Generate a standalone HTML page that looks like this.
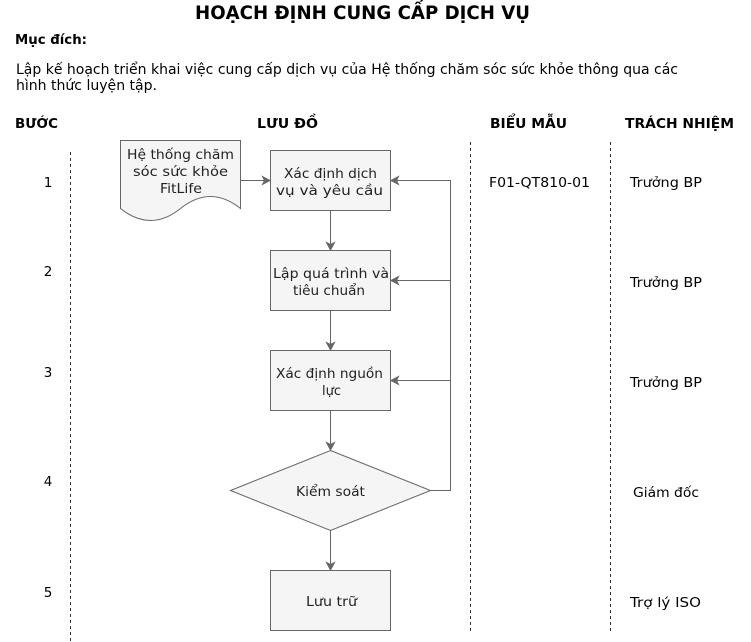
<!DOCTYPE html>
<html>
<head>
<meta charset="utf-8">
<style>
html,body{margin:0;padding:0;background:#fff;}
svg{display:block;}
text{font-family:"DejaVu Sans","Liberation Sans",sans-serif;}
</style>
</head>
<body>
<svg width="751" height="642" viewBox="0 0 751 642" xmlns="http://www.w3.org/2000/svg">
  <!-- Title & intro -->
  <text x="195" y="19" font-size="18.5" font-weight="bold" fill="#000" textLength="335" lengthAdjust="spacingAndGlyphs">HOẠCH ĐỊNH CUNG CẤP DỊCH VỤ</text>
  <text x="15" y="44" font-size="13.5" font-weight="bold" fill="#000" textLength="72" lengthAdjust="spacingAndGlyphs">Mục đích:</text>
  <text x="16" y="74" font-size="14" fill="#000" textLength="662" lengthAdjust="spacingAndGlyphs">Lập kế hoạch triển khai việc cung cấp dịch vụ của Hệ thống chăm sóc sức khỏe thông qua các</text>
  <text x="16" y="90" font-size="14" fill="#000" textLength="141" lengthAdjust="spacingAndGlyphs">hình thức luyện tập.</text>

  <!-- Column headers -->
  <text x="15" y="128" font-size="13.5" font-weight="bold" fill="#000" textLength="43" lengthAdjust="spacingAndGlyphs">BƯỚC</text>
  <text x="257" y="128" font-size="13.5" font-weight="bold" fill="#000" textLength="61" lengthAdjust="spacingAndGlyphs">LƯU ĐỒ</text>
  <text x="490" y="128" font-size="13.5" font-weight="bold" fill="#000" textLength="77" lengthAdjust="spacingAndGlyphs">BIỂU MẪU</text>
  <text x="625" y="128" font-size="13.5" font-weight="bold" fill="#000" textLength="109" lengthAdjust="spacingAndGlyphs">TRÁCH NHIỆM</text>

  <!-- Dashed separators -->
  <g stroke="#333" stroke-width="1" stroke-dasharray="3 3" fill="none">
    <line x1="70.5" y1="152" x2="70.5" y2="642"/>
    <line x1="470.5" y1="142" x2="470.5" y2="631"/>
    <line x1="610.5" y1="142" x2="610.5" y2="631"/>
  </g>

  <!-- Step numbers -->
  <g font-size="13.5" fill="#000" text-anchor="middle">
    <text x="48" y="187">1</text>
    <text x="48" y="276">2</text>
    <text x="48" y="377">3</text>
    <text x="48" y="486">4</text>
    <text x="48" y="597">5</text>
  </g>

  <!-- Forms / responsibilities -->
  <g font-size="13.5" fill="#000">
    <text x="489" y="187" textLength="101" lengthAdjust="spacingAndGlyphs">F01-QT810-01</text>
    <text x="630" y="187" textLength="72" lengthAdjust="spacingAndGlyphs">Trưởng BP</text>
    <text x="630" y="287" textLength="72" lengthAdjust="spacingAndGlyphs">Trưởng BP</text>
    <text x="630" y="387" textLength="72" lengthAdjust="spacingAndGlyphs">Trưởng BP</text>
    <text x="633" y="497" textLength="66" lengthAdjust="spacingAndGlyphs">Giám đốc</text>
    <text x="630" y="607" textLength="71" lengthAdjust="spacingAndGlyphs">Trợ lý ISO</text>
  </g>

  <!-- Shapes -->
  <g fill="#f5f5f5" stroke="#666" stroke-width="1">
    <path d="M120.5,140.5 L240.5,140.5 L240.5,208.5 Q210.5,184.5 180.5,208.5 Q150.5,232.5 120.5,208.5 Z"/>
    <rect x="270.5" y="150.5" width="120" height="60"/>
    <rect x="270.5" y="250.5" width="120" height="60"/>
    <rect x="270.5" y="350.5" width="120" height="60"/>
    <path d="M330.5,450.5 L430.5,490.5 L330.5,530.5 L230.5,490.5 Z"/>
    <rect x="270.5" y="570.5" width="120" height="60"/>
  </g>

  <!-- Connectors -->
  <g stroke="#666" stroke-width="1" fill="none">
    <line x1="240.5" y1="180.5" x2="264" y2="180.5"/>
    <line x1="330.5" y1="210.5" x2="330.5" y2="244"/>
    <line x1="330.5" y1="310.5" x2="330.5" y2="344"/>
    <line x1="330.5" y1="410.5" x2="330.5" y2="444"/>
    <line x1="330.5" y1="530.5" x2="330.5" y2="564"/>
    <polyline points="430.5,490.5 450.5,490.5 450.5,180.5 396,180.5"/>
    <line x1="450.5" y1="280.5" x2="396" y2="280.5"/>
    <line x1="450.5" y1="380.5" x2="396" y2="380.5"/>
  </g>
  <g fill="#666" stroke="#666" stroke-width="1">
    <polygon points="270,180.5 262.5,176.5 264.5,180.5 262.5,184.5"/>
    <polygon points="330.5,250 326.5,242.5 330.5,244.5 334.5,242.5"/>
    <polygon points="330.5,350 326.5,342.5 330.5,344.5 334.5,342.5"/>
    <polygon points="330.5,450 326.5,442.5 330.5,444.5 334.5,442.5"/>
    <polygon points="330.5,570 326.5,562.5 330.5,564.5 334.5,562.5"/>
    <polygon points="391,180.5 398.5,176.5 396.5,180.5 398.5,184.5"/>
    <polygon points="391,280.5 398.5,276.5 396.5,280.5 398.5,284.5"/>
    <polygon points="391,380.5 398.5,376.5 396.5,380.5 398.5,384.5"/>
  </g>

  <!-- Shape labels -->
  <g font-size="13.5" fill="#222">
    <text x="127" y="159" textLength="107" lengthAdjust="spacingAndGlyphs">Hệ thống chăm</text>
    <text x="133" y="176" textLength="95" lengthAdjust="spacingAndGlyphs">sóc sức khỏe</text>
    <text x="160" y="193" textLength="42" lengthAdjust="spacingAndGlyphs">FitLife</text>

    <text x="284" y="178" textLength="93" lengthAdjust="spacingAndGlyphs">Xác định dịch</text>
    <text x="276" y="195" textLength="107" lengthAdjust="spacingAndGlyphs">vụ và yêu cầu</text>

    <text x="273" y="278" textLength="116" lengthAdjust="spacingAndGlyphs">Lập quá trình và</text>
    <text x="293" y="295" textLength="72" lengthAdjust="spacingAndGlyphs">tiêu chuẩn</text>

    <text x="276" y="378" textLength="107" lengthAdjust="spacingAndGlyphs">Xác định nguồn</text>
    <text x="322" y="395" textLength="19" lengthAdjust="spacingAndGlyphs">lực</text>

    <text x="296" y="496" textLength="69" lengthAdjust="spacingAndGlyphs">Kiểm soát</text>

    <text x="306" y="606" textLength="51" lengthAdjust="spacingAndGlyphs">Lưu trữ</text>
  </g>
</svg>
</body>
</html>
